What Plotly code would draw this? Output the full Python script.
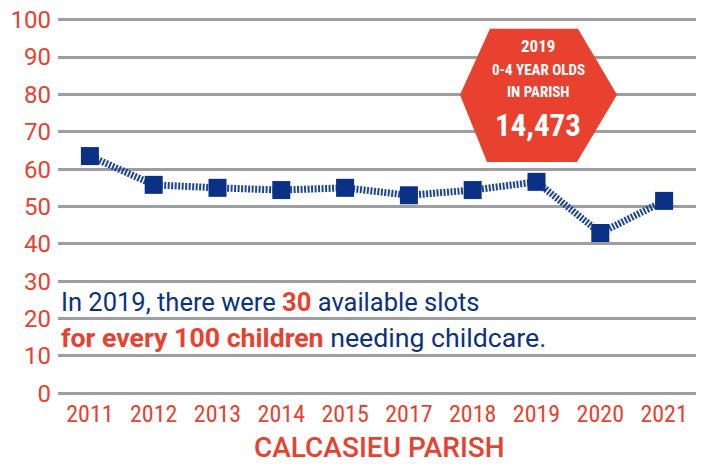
import plotly.graph_objects as go

years = ["2011", "2012", "2013", "2014", "2015", "2017", "2018", "2019", "2020", "2021"]
slots = [63.5, 55.8, 55.0, 54.4, 55.0, 53.0, 54.4, 56.6, 42.9, 51.5]
y_ticks = [0, 10, 20, 30, 40, 50, 60, 70, 80, 90, 100]

RED = "#e8412f"
BLUE = "#0a3185"
GRID = "#9d9ea2"
COND = "Roboto Condensed, DejaVu Sans Condensed, Roboto"

fig = go.Figure()
fig.add_trace(go.Scatter(
    x=years, y=slots, mode="lines",
    line=dict(color="#1d4495", width=7, dash="2px,1.5px"),
    hoverinfo="skip", showlegend=False,
))
fig.add_trace(go.Scatter(
    x=years, y=slots, mode="markers",
    marker=dict(symbol="square", size=18, color=BLUE),
    showlegend=False,
))

W, H = 702, 464
ml, mr, mt, mb = 58, 6, 16.3, 67.3
pw, ph = W - ml - mr, H - mt - mb

def px(x):
    return (x - ml) / pw

def py(y):
    return (H - mb - y) / ph

hexa = [(460, 95), (490, 29), (578, 29), (617, 95), (577, 162), (487, 162)]
path = "M " + " L ".join(f"{px(a):.4f},{py(b):.4f}" for a, b in hexa) + " Z"
fig.add_shape(type="path", path=path, xref="paper", yref="paper",
              fillcolor=RED, line=dict(width=0), layer="above")

for txt, y, size in [("2019", 46, 17), ("0-4 YEAR OLDS", 70, 15), ("IN PARISH", 92, 15), ("14,473", 126, 31)]:
    fig.add_annotation(x=px(538), y=py(y), xref="paper", yref="paper",
                       text=f"<b>{txt}</b>", showarrow=False,
                       font=dict(family=COND, size=size, color="white"),
                       xanchor="center", yanchor="middle")

fig.add_annotation(x=px(59), y=py(302), xref="paper", yref="paper", xanchor="left", yanchor="middle",
                   showarrow=False,
                   text=f"In 2019, there were <b><span style='color:{RED}'>30</span></b> available slots",
                   font=dict(family="Roboto", size=25.5, color=BLUE))
fig.add_annotation(x=px(59), y=py(338), xref="paper", yref="paper", xanchor="left", yanchor="middle",
                   showarrow=False,
                   text=f"<b><span style='color:{RED}'>for every 100 children</span></b> needing childcare.",
                   font=dict(family="Roboto", size=26.7, color=BLUE))

fig.add_annotation(x=px(379), y=py(447), xref="paper", yref="paper", xanchor="center", yanchor="middle",
                   showarrow=False, text="CALCASIEU PARISH",
                   font=dict(family="Roboto", size=28, color=RED, weight=500))

fig.update_layout(
    width=W, height=H,
    margin=dict(l=ml, r=mr, t=mt, b=mb),
    paper_bgcolor="white", plot_bgcolor="white",
    xaxis=dict(type="category", range=[-0.5, 9.5], showgrid=False, zeroline=False,
               showline=False, ticks="", automargin=False,
               tickfont=dict(family=COND, size=24, color=RED)),
    yaxis=dict(range=[-1, 101], tickvals=y_ticks, showgrid=True, gridcolor=GRID, gridwidth=3,
               zeroline=False, showline=False, ticks="", ticklabelstandoff=6, automargin=False,
               tickfont=dict(family="Roboto", size=24, color=RED)),
)

fig.write_html("out.html", config={"displayModeBar": False},
               post_script="document.body.style.margin='0';")
